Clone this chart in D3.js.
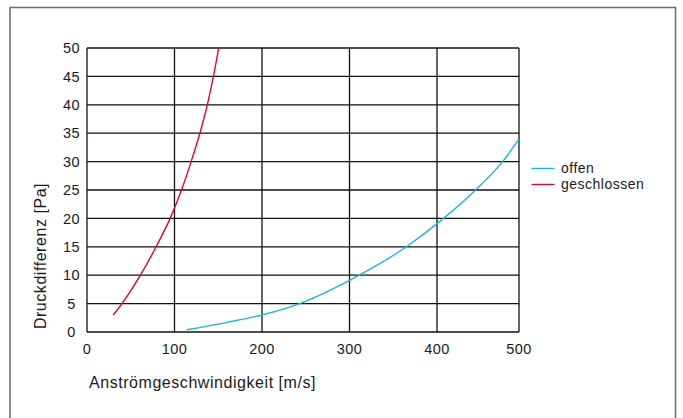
<!DOCTYPE html>
<html><head><meta charset="utf-8">
<script src="https://cdn.jsdelivr.net/npm/d3@7"></script>
<style>
html,body{margin:0;padding:0;background:#fff;}
text{font-family:"Liberation Sans",Arial,sans-serif;fill:#1a1a1a;}
</style></head>
<body>
<script>
// Data
const xTicks = [0, 100, 200, 300, 400, 500];
const yTicks = [0, 5, 10, 15, 20, 25, 30, 35, 40, 45, 50];
const offenX = [114, 160, 200, 243, 300, 365, 408, 447, 480, 500];
const offenY = [0.4, 1.7, 3, 5, 9.1, 15, 20, 25, 30, 34];
const geschlossenX = [30, 40, 61, 79, 95, 108, 119, 129, 137.5, 144.5, 150.5];
const geschlossenY = [3, 5, 10, 15, 20, 25, 30, 35, 40, 45, 50];
const seriesNames = ["offen", "geschlossen"];
const seriesColors = ["#1db4d6", "#e2062c"];
const xTitle = "Anströmgeschwindigkeit [m/s]";
const yTitle = "Druckdifferenz [Pa]";

const W = 683, H = 418;
const svg = d3.select("body").append("svg").attr("width", W).attr("height", H);

// outer frame
svg.append("rect").attr("x", 10).attr("y", 7.5).attr("width", 665.5).attr("height", 420)
  .attr("fill", "none").attr("stroke", "#6b6b6b").attr("stroke-width", 1.5);

const x = d3.scaleLinear().domain([0, 400, 500]).range([87, 437, 519]);
const y = d3.scaleLinear().domain([0, 50]).range([332, 48]);

const grid = svg.append("g").attr("stroke", "#111").attr("stroke-width", 1.3);
grid.selectAll("line.v").data(xTicks).join("line").attr("class", "v")
  .attr("x1", d => x(d)).attr("x2", d => x(d)).attr("y1", y(0)).attr("y2", y(50));
grid.selectAll("line.h").data(yTicks).join("line").attr("class", "h")
  .attr("x1", x(0)).attr("x2", x(500)).attr("y1", d => y(d)).attr("y2", d => y(d));

// tick labels
svg.append("g").selectAll("text").data(yTicks).join("text")
  .attr("x", 71.5).attr("y", d => y(d)).attr("dy", "0.36em")
  .attr("text-anchor", "middle").style("font-size", "14.5px").style("letter-spacing", "0.4px")
  .text(d => d);
svg.append("g").selectAll("text").data(xTicks).join("text")
  .attr("x", d => x(d)).attr("y", 353.5)
  .attr("text-anchor", "middle").style("font-size", "14.5px").style("letter-spacing", "0.4px")
  .text(d => d);

// titles
svg.append("text").attr("x", 89).attr("y", 388).style("font-size", "16px").style("letter-spacing", "0.55px")
  .text(xTitle);
svg.append("text").attr("transform", "translate(46,256) rotate(-90)").attr("text-anchor", "middle")
  .style("font-size", "16px").style("letter-spacing", "0.55px").text(yTitle);

// lines
const line = d3.line().x(d => x(d[0])).y(d => y(d[1])).curve(d3.curveMonotoneX);
const series = [
  offenX.map((v, i) => [v, offenY[i]]),
  geschlossenX.map((v, i) => [v, geschlossenY[i]])
];
svg.append("g").selectAll("path").data(series).join("path")
  .attr("d", line).attr("fill", "none")
  .attr("stroke", (d, i) => seriesColors[i]).attr("stroke-width", 1.4);

// legend
const lg = svg.append("g").selectAll("g").data(seriesNames).join("g")
  .attr("transform", (d, i) => `translate(531.5,${168.5 + i * 16})`);
lg.append("line").attr("x1", 0).attr("x2", 23).attr("y1", 0).attr("y2", 0)
  .attr("stroke", (d, i) => seriesColors[i]).attr("stroke-width", 1.4);
lg.append("text").attr("x", 29.5).attr("y", 4.5).style("font-size", "14px").style("letter-spacing", "0.5px")
  .text(d => d);
</script>
</body></html>
